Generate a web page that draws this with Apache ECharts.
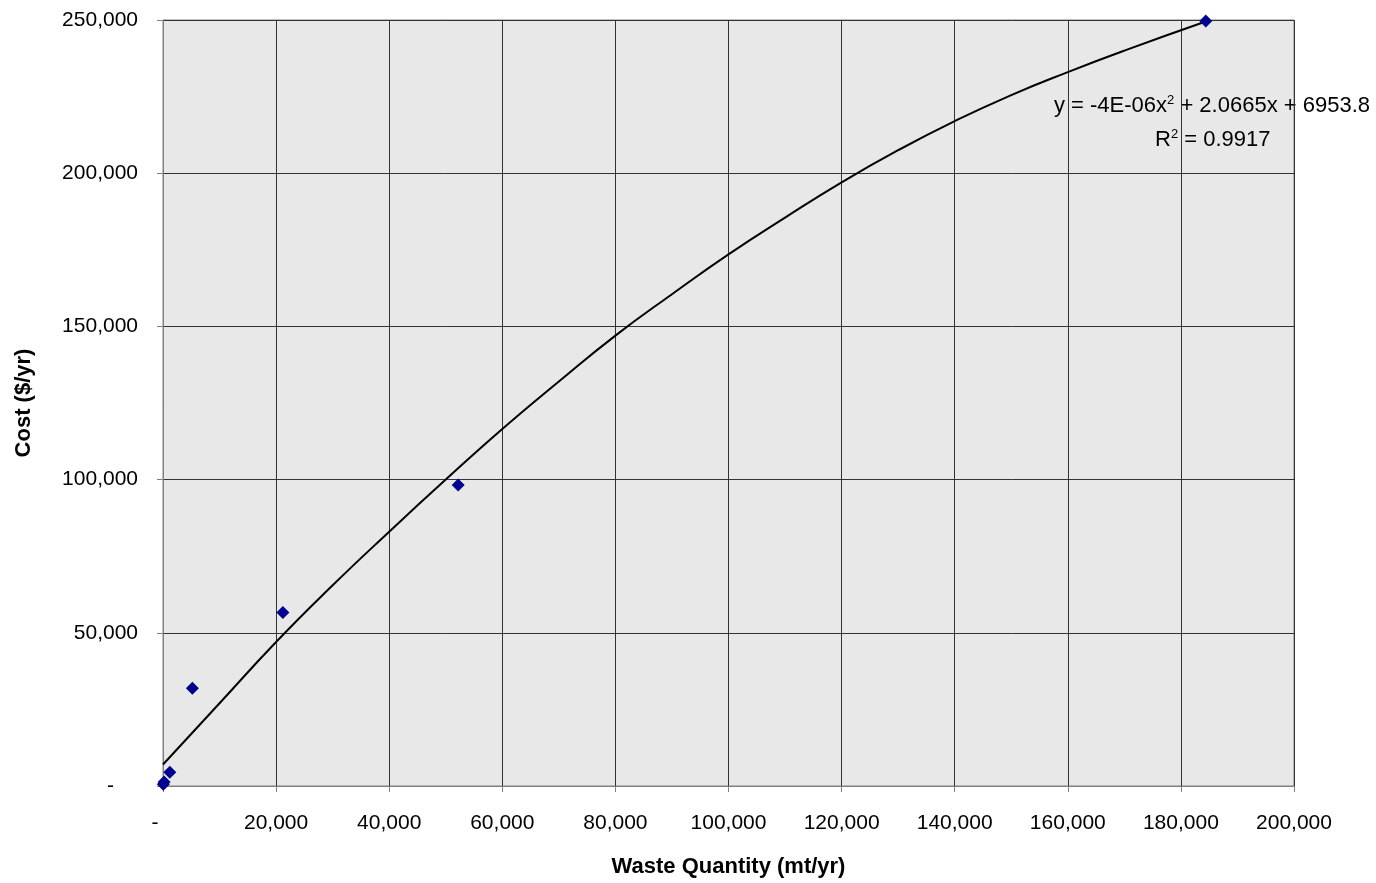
<!DOCTYPE html>
<html><head><meta charset="utf-8">
<script src="https://cdn.jsdelivr.net/npm/echarts@6/dist/echarts.min.js"></script>
<style>html,body{margin:0;padding:0;background:#fff}#c{width:1376px;height:883px}</style>
</head><body><div id="c"></div>
<script>
// Observed data points (waste quantity mt/yr, cost $/yr)
const wasteQty = [50, 200, 1200, 5200, 21200, 52200, 184400];
const costVals = [600, 1300, 4500, 31900, 56600, 98200, 249700];
// Trendline (polynomial fit)
const trendX = [0, 10000, 20000, 30000, 40000, 50000, 60000, 70000, 80000, 90000, 100000, 110000, 120000, 130000, 140000, 150000, 160000, 170000, 184400];
const trendY = [7000, 27000, 47000, 65500, 83000, 100000, 116500, 132000, 147000, 160500, 173500, 185500, 197000, 207500, 217000, 225500, 233000, 240000, 249500];
const xTicks = [0, 20000, 40000, 60000, 80000, 100000, 120000, 140000, 160000, 180000, 200000];
const yTicks = [0, 50000, 100000, 150000, 200000, 250000];
const eqLine1 = 'y = -4E-06x{s|2} + 2.0665x + 6953.8';
const eqLine2 = 'R{s|2} = 0.9917';

const fmt = v => v === 0 ? '-' : v.toLocaleString('en-US');
const font = 'Liberation Sans, Arial, sans-serif';
const FS = 21;
const chart = echarts.init(document.getElementById('c'));
chart.setOption({
  animation: false,
  backgroundColor: '#ffffff',
  grid: {left: 163, right: 82, top: 20, bottom: 95, show: true, backgroundColor: '#e8e8e8', borderColor: '#808080', borderWidth: 1},
  xAxis: {
    type: 'value', min: 0, max: 200000, interval: 20000,
    name: 'Waste Quantity (mt/yr)', nameLocation: 'middle', nameGap: 70,
    nameTextStyle: {fontFamily: font, fontSize: 22, fontWeight: 'bold', color: '#000'},
    axisLine: {show: true, lineStyle: {color: '#808080'}},
    axisTick: {show: true, length: 6, lineStyle: {color: '#808080'}},
    axisLabel: {fontFamily: font, fontSize: FS, color: '#000', margin: 27,
      formatter: v => v === 0 ? '{d|-}' : fmt(v),
      rich: {d: {fontFamily: font, fontSize: FS, color: '#000', padding: [0, 16, 0, 0]}}},
    splitLine: {show: true, lineStyle: {color: '#333', width: 1}}
  },
  yAxis: {
    type: 'value', min: 0, max: 250000, interval: 50000,
    name: 'Cost ($/yr)', nameLocation: 'middle', nameGap: 128, nameRotate: 90,
    nameTextStyle: {fontFamily: font, fontSize: 22, fontWeight: 'bold', color: '#000'},
    axisLine: {show: true, lineStyle: {color: '#808080'}},
    axisTick: {show: true, length: 6, lineStyle: {color: '#808080'}},
    axisLabel: {fontFamily: font, fontSize: FS, color: '#000', margin: 25,
      formatter: v => v === 0 ? '{d|-}' : fmt(v),
      rich: {d: {fontFamily: font, fontSize: FS, color: '#000', padding: [0, 24, 0, 0]}}},
    splitLine: {show: true, lineStyle: {color: '#333', width: 1}}
  },
  series: [
    {type: 'line', data: trendX.map((x, i) => [x, trendY[i]]), smooth: true, showSymbol: false,
     lineStyle: {color: '#000', width: 2}, z: 2, silent: true},
    {type: 'scatter', data: wasteQty.map((x, i) => [x, costVals[i]]), symbol: 'diamond', symbolSize: 13,
     itemStyle: {color: '#000090', opacity: 1}, z: 3}
  ],
  graphic: [
    {type: 'text', right: 6, top: 94, style: {text: eqLine1, fontFamily: font, fontSize: 22, fill: '#000',
      rich: {s: {fontSize: 13, verticalAlign: 'top', padding: [0, 0, 10, 0], fontFamily: font}}}},
    {type: 'text', left: 1155, top: 128, style: {text: eqLine2, fontFamily: font, fontSize: 22, fill: '#000',
      rich: {s: {fontSize: 13, verticalAlign: 'top', padding: [0, 0, 10, 0], fontFamily: font}}}}
  ]
});
</script></body></html>
